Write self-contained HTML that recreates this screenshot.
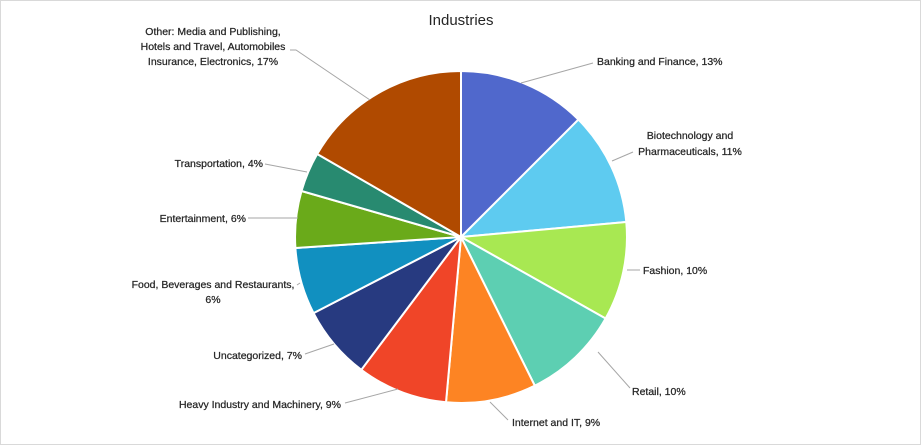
<!DOCTYPE html>
<html><head><meta charset="utf-8"><style>
html,body{margin:0;padding:0;background:#fff;}
svg{display:block;}
text{font-family:"Liberation Sans",Arial,sans-serif;font-size:10.5px;fill:#262626;stroke:#262626;stroke-width:0.25px;}
</style></head><body>
<svg width="921" height="445" viewBox="0 0 921 445" xmlns="http://www.w3.org/2000/svg">
<rect x="0.5" y="0.5" width="920" height="444" fill="#fff" stroke="#d9d9d9"/>
<text x="461" y="25" text-anchor="middle" style="font-size:15px;fill:#262626;stroke:none">Industries</text>
<g stroke="#fff" stroke-width="2" stroke-linejoin="round">
<path d="M461,237 L461,71 A166,166 0 0 1 578.4,119.6 Z" fill="#5068cc"/>
<path d="M461,237 L578.4,119.6 A166,166 0 0 1 626.3,222.0 Z" fill="#5ecbf0"/>
<path d="M461,237 L626.3,222.0 A166,166 0 0 1 605.6,318.5 Z" fill="#a8e852"/>
<path d="M461,237 L605.6,318.5 A166,166 0 0 1 534.8,385.7 Z" fill="#5dcfb2"/>
<path d="M461,237 L534.8,385.7 A166,166 0 0 1 446.0,402.3 Z" fill="#fd8423"/>
<path d="M461,237 L446.0,402.3 A166,166 0 0 1 361.3,369.8 Z" fill="#f04528"/>
<path d="M461,237 L361.3,369.8 A166,166 0 0 1 313.5,313.1 Z" fill="#273a80"/>
<path d="M461,237 L313.5,313.1 A166,166 0 0 1 295.4,248.0 Z" fill="#1190c0"/>
<path d="M461,237 L295.4,248.0 A166,166 0 0 1 301.5,191.0 Z" fill="#6aaa1a"/>
<path d="M461,237 L301.5,191.0 A166,166 0 0 1 317.2,154.0 Z" fill="#288a70"/>
<path d="M461,237 L317.2,154.0 A166,166 0 0 1 461,71 Z" fill="#b04a00"/>
</g>
<g stroke="#a6a6a6" stroke-width="1" fill="none">
<polyline points="521,83 593,63"/>
<polyline points="612,161 633,152"/>
<polyline points="627,270 640,270"/>
<polyline points="598,352 630,388"/>
<polyline points="490,402 508,420"/>
<polyline points="398,389 345,403"/>
<polyline points="334,344 305,354"/>
<polyline points="297,285 300,283"/>
<polyline points="298,218 248,218"/>
<polyline points="307,172 265,164"/>
<polyline points="370,100 296,50 290,50"/>
</g>
<text x="597" y="65">Banking and Finance, 13%</text>
<text x="690" y="139" text-anchor="middle">Biotechnology and</text>
<text x="690" y="155" text-anchor="middle">Pharmaceuticals, 11%</text>
<text x="643" y="274">Fashion, 10%</text>
<text x="632" y="395">Retail, 10%</text>
<text x="512" y="426">Internet and IT, 9%</text>
<text x="341" y="408" text-anchor="end">Heavy Industry and Machinery, 9%</text>
<text x="302" y="359" text-anchor="end">Uncategorized, 7%</text>
<text x="213" y="288" text-anchor="middle">Food, Beverages and Restaurants,</text>
<text x="213" y="303" text-anchor="middle">6%</text>
<text x="246" y="222" text-anchor="end">Entertainment, 6%</text>
<text x="263" y="167" text-anchor="end">Transportation, 4%</text>
<text x="213" y="35" text-anchor="middle">Other: Media and Publishing,</text>
<text x="213" y="50" text-anchor="middle">Hotels and Travel, Automobiles</text>
<text x="213" y="65" text-anchor="middle">Insurance, Electronics, 17%</text>
</svg>
</body></html>
